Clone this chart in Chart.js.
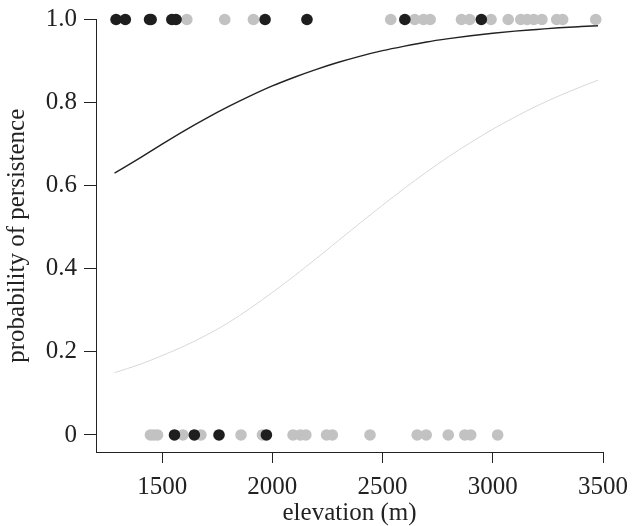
<!DOCTYPE html>
<html><head><meta charset="utf-8">
<script src="https://cdn.jsdelivr.net/npm/chart.js@4"></script>
<style>html,body{margin:0;background:#fff}</style>
</head><body>
<canvas id="chart" width="637" height="526"></canvas>
<script>
const xTicks = [1500,2000,2500,3000,3500];
const yTicks = [0,0.2,0.4,0.6,0.8,1.0];

// elevations (m) of sites, persisted (1) or lost (0)
const greyPersist = [1612,1784,1914,2537,2646,2686,2716,2858,2895,2992,3070,3127,3156,3186,3223,3290,3317,3467];
const blackPersist = [1291,1333,1443,1450,1544,1563,1967,2157,2601,2948];
const greyLost = [1447,1463,1479,1594,1676,1858,1955,2094,2127,2152,2246,2272,2443,2657,2698,2798,2873,2900,3022];
const blackLost = [1556,1646,1758,1973];

// fitted probability of persistence
const curveX = [1284,1400,1500,1600,1700,1800,1900,2000,2100,2200,2300,2400,2500,2600,2700,2800,2900,3000,3100,3200,3300,3400,3477];
const blackCurve = [0.630,0.667,0.700,0.732,0.762,0.790,0.816,0.840,0.861,0.880,0.897,0.912,0.925,0.936,0.946,0.954,0.961,0.967,0.972,0.976,0.980,0.983,0.985];
const greyCurve = [0.150,0.170,0.191,0.214,0.240,0.270,0.305,0.343,0.383,0.425,0.468,0.511,0.553,0.594,0.633,0.670,0.704,0.736,0.765,0.792,0.816,0.838,0.854];

const ink = '#222';
const serif = 'Liberation Serif';
const pts = (arr, y) => arr.map(x => ({x, y}));
const line = ys => curveX.map((x,i) => ({x, y: ys[i]}));

function dots(data, color, order){
  return { data, order, clip:false, backgroundColor:color, borderWidth:0, pointRadius:5.8, pointHoverRadius:5.8 };
}
function curve(data, color, width){
  return { data, order:3, clip:false, showLine:true, borderColor:color, borderWidth:width, pointRadius:0, cubicInterpolationMode:'monotone', fill:false };
}

new Chart(document.getElementById('chart'), {
  type:'scatter',
  data:{ datasets:[
    dots(pts(blackPersist,1), '#1e1e1e', 0),
    dots(pts(blackLost,0), '#1e1e1e', 0),
    dots(pts(greyPersist,1), '#c2c2c2', 1),
    dots(pts(greyLost,0), '#c2c2c2', 1),
    curve(line(blackCurve), ink, 1.4),
    curve(line(greyCurve), '#d8d8d8', 1)
  ]},
  options:{
    responsive:false, animation:false, devicePixelRatio:1,
    layout:{ padding:{ top:12, right:27, left:0, bottom:0 } },
    plugins:{ legend:{display:false}, tooltip:{enabled:false} },
    scales:{
      x:{
        type:'linear', min:1200, max:3500,
        afterBuildTicks: s => { s.ticks = xTicks.map(v => ({value:v})); },
        afterFit: s => { s.height = 74; },
        grid:{ drawOnChartArea:false, tickLength:11, color:ink },
        border:{ color:ink },
        ticks:{ autoSkip:false, maxRotation:0, padding:9, color:ink, font:{family:serif, size:25},
          callback: v => String(v) },
        title:{ display:true, text:'elevation (m)', color:ink, padding:0, font:{family:serif, size:25, lineHeight:1} }
      },
      y:{
        min:-0.041, max:1,
        afterBuildTicks: s => { s.ticks = yTicks.map(v => ({value:v})); },
        afterFit: s => { s.width = 96; },
        grid:{ drawOnChartArea:false, tickLength:12, color:ink },
        border:{ color:ink },
        ticks:{ autoSkip:false, padding:7, color:ink, font:{family:serif, size:25, lineHeight:1},
          callback: v => v === 0 ? '0' : v.toFixed(1) },
        title:{ display:true, text:'probability of persistence', color:ink, padding:{top:5, bottom:0}, font:{family:serif, size:25, lineHeight:1} }
      }
    }
  }
});
</script>
</body></html>
